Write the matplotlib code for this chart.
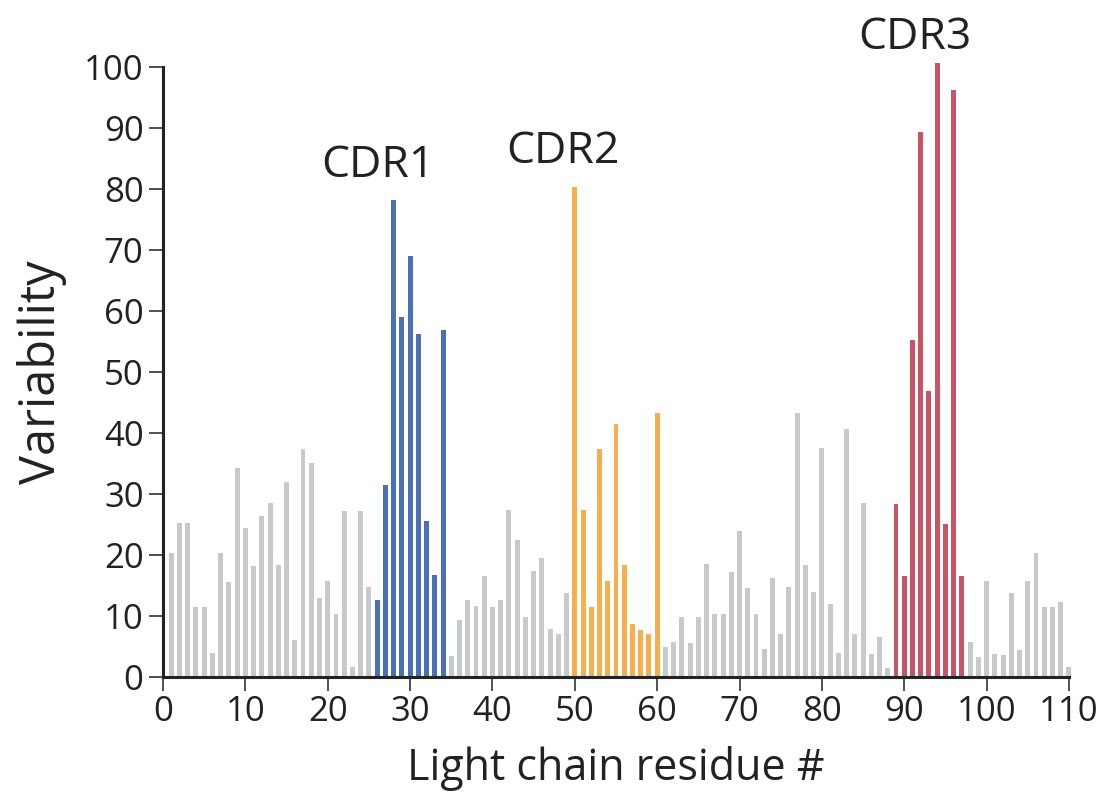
import matplotlib
matplotlib.use("Agg")
import matplotlib.pyplot as plt
import numpy as np

plt.rcParams['font.family'] = ['Open Sans', 'DejaVu Sans']

residues = list(range(1, 111))
variability = [
    20.3, 25.2, 25.2, 11.5, 11.4, 4.0, 20.3, 15.5, 34.3, 24.4,
    18.2, 26.4, 28.5, 18.4, 32.0, 6.1, 37.3, 35.1, 12.9, 15.8,
    10.3, 27.2, 1.7, 27.2, 14.8, 12.6, 31.5, 78.2, 59.0, 69.0,
    56.2, 25.5, 16.7, 56.9, 3.4, 9.3, 12.6, 11.6, 16.6, 11.5,
    12.6, 27.3, 22.5, 9.9, 17.4, 19.5, 7.9, 7.0, 13.7, 80.3,
    27.4, 11.5, 37.4, 15.7, 41.5, 18.3, 8.7, 7.7, 7.0, 43.3,
    4.9, 5.7, 9.9, 5.6, 9.9, 18.6, 10.3, 10.4, 17.2, 23.9,
    14.6, 10.4, 4.6, 16.2, 7.0, 14.7, 43.3, 18.4, 13.9, 37.5,
    12.0, 4.0, 40.7, 7.1, 28.5, 3.8, 6.6, 1.4, 28.3, 16.5,
    55.2, 89.3, 46.9, 100.6, 25.1, 96.2, 16.5, 5.8, 3.3, 15.8,
    3.7, 3.6, 13.8, 4.5, 15.8, 20.4, 11.4, 11.4, 12.3, 1.6,
]

cdr_names = ["CDR1", "CDR2", "CDR3"]
cdr_ranges = [(26, 34), (50, 60), (89, 97)]
cdr_colors = ["#4a70b8", "#f7ae4c", "#c95466"]
cdr_label_x = [26.1, 48.6, 91.3]
cdr_label_y = [82.0, 84.3, 103.0]
grey = "#c8c9cb"

xticks = list(range(0, 111, 10))
yticks = list(range(0, 101, 10))

colors = []
for r in residues:
    c = grey
    for (a, b), col in zip(cdr_ranges, cdr_colors):
        if a <= r <= b:
            c = col
    colors.append(c)

fig = plt.figure(figsize=(11.12, 8.01), dpi=100)
ax = fig.add_axes([0.1466, 0.1548, 0.9613 - 0.1466, 0.9164 - 0.1548])

ax.bar(residues, variability, width=0.6, color=colors, clip_on=False, zorder=2)

ax.set_xlim(0, 110)
ax.set_ylim(0, 100)
ax.set_xticks(xticks)
ax.set_yticks(yticks)
ax.spines['top'].set_visible(False)
ax.spines['right'].set_visible(False)
for s in ['left', 'bottom']:
    ax.spines[s].set_linewidth(2.2)
    ax.spines[s].set_color('#222222')
    ax.spines[s].set_zorder(3)
ax.tick_params(axis='both', length=10, width=1.1, color='#222222',
               labelsize=25, labelcolor='#222222')
ax.tick_params(axis='y', pad=4)
ax.tick_params(axis='x', pad=3)

ax.set_xlabel("Light chain residue #", fontsize=31, color='#222222', labelpad=12)
ax.set_ylabel("Variability", fontsize=35, color='#222222', labelpad=12)

for name, lx, ly in zip(cdr_names, cdr_label_x, cdr_label_y):
    ax.text(lx, ly, name, fontsize=32, color='#222222', ha='center', va='baseline',
            clip_on=False)

fig.savefig("out.png", dpi=100)
